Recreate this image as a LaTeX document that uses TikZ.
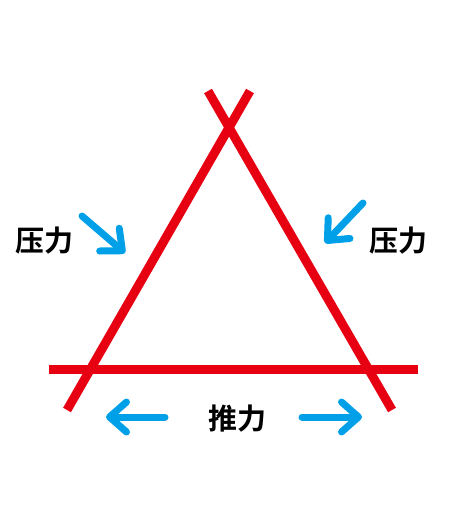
\documentclass[tikz,border=0pt]{standalone}
\usepackage{fontspec}
\newfontfamily\cjk{Noto Sans CJK SC Bold}
\usetikzlibrary{arrows.meta}
\definecolor{frame}{RGB}{230,0,18}
\definecolor{force}{RGB}{0,160,233}

\begin{document}
\begin{tikzpicture}[
  x=1pt,y=-1pt,
  every node/.style={inner sep=0pt,font=\cjk\fontsize{29pt}{29pt}\selectfont},
  pole/.style={draw=frame,line width=9pt},
  push/.style={draw=force,line width=7pt,line cap=round,
   -{Straight Barb[length=17pt,width=30pt,round]}}
  ]
  \useasboundingbox (0,0) rectangle (450,520);

  \coordinate (Ltop) at (250,91);
  \coordinate (Lbot) at (67,410);
  \coordinate (Rtop) at (208,91);
  \coordinate (Rbot) at (392,410);
  \coordinate (Bl) at (49,369);
  \coordinate (Br) at (418,369);
  \draw[pole] (Lbot) -- (Ltop);
  \draw[pole] (Rtop) -- (Rbot);
  \draw[pole] (Bl) -- (Br);

  \node (Ptext) at (45,241) {压力};
  \node (Qtext) at (398,241) {压力};
  \node (Ttext) at (237,419) {推力};

  \coordinate (P1) at (82,216);
  \coordinate (P2) at (125,253);
  \coordinate (Q1) at (363,203);
  \coordinate (Q2) at (325,243);
  \coordinate (T1) at (165,417);
  \coordinate (T2) at (106,417);
  \coordinate (U1) at (302,417);
  \coordinate (U2) at (362,417);
  \draw[push] (P1) -- (P2);
  \draw[push] (Q1) -- (Q2);
  \draw[push] (T1) -- (T2);
  \draw[push] (U1) -- (U2);
\end{tikzpicture}
\end{document}
